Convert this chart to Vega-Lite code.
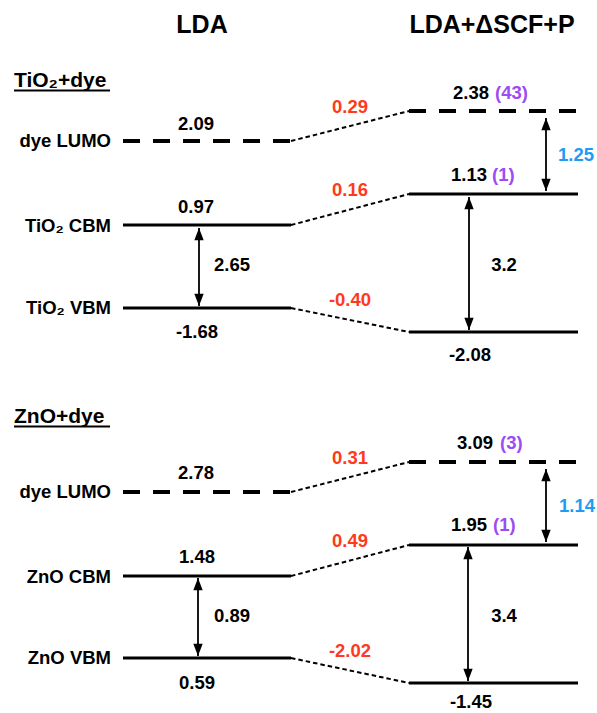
{
  "$schema": "https://vega.github.io/schema/vega-lite/v6.json",
  "width": 597,
  "height": 713,
  "padding": 0,
  "autosize": "none",
  "background": "white",
  "config": {"view": {"stroke": null}, "text": {"font": "Liberation Sans", "fontWeight": "bold"}},
  "datasets": {
    "levels": [
      {"panel": "TiO2", "col": "LDA", "kind": "dashed", "x1": 123, "x2": 291, "y": 141},
      {"panel": "TiO2", "col": "LDA", "kind": "solid", "x1": 123, "x2": 291, "y": 225},
      {"panel": "TiO2", "col": "LDA", "kind": "solid", "x1": 123, "x2": 291, "y": 308},
      {"panel": "TiO2", "col": "P", "kind": "dashed", "x1": 409, "x2": 578, "y": 111},
      {"panel": "TiO2", "col": "P", "kind": "solid", "x1": 409, "x2": 578, "y": 194},
      {"panel": "TiO2", "col": "P", "kind": "solid", "x1": 409, "x2": 578, "y": 332},
      {"panel": "ZnO", "col": "LDA", "kind": "dashed", "x1": 123, "x2": 291, "y": 492},
      {"panel": "ZnO", "col": "LDA", "kind": "solid", "x1": 123, "x2": 291, "y": 576},
      {"panel": "ZnO", "col": "LDA", "kind": "solid", "x1": 123, "x2": 291, "y": 658},
      {"panel": "ZnO", "col": "P", "kind": "dashed", "x1": 409, "x2": 578, "y": 462},
      {"panel": "ZnO", "col": "P", "kind": "solid", "x1": 409, "x2": 578, "y": 545},
      {"panel": "ZnO", "col": "P", "kind": "solid", "x1": 409, "x2": 578, "y": 683}
    ],
    "connectors": [
      {"x1": 291, "y1": 141, "x2": 409, "y2": 111},
      {"x1": 291, "y1": 225, "x2": 409, "y2": 194},
      {"x1": 291, "y1": 308, "x2": 409, "y2": 332},
      {"x1": 291, "y1": 492, "x2": 409, "y2": 462},
      {"x1": 291, "y1": 576, "x2": 409, "y2": 545},
      {"x1": 291, "y1": 658, "x2": 409, "y2": 683}
    ],
    "arrows": [
      {"x": 199, "y1": 228, "y2": 306},
      {"x": 546, "y1": 118, "y2": 191},
      {"x": 469, "y1": 197, "y2": 330},
      {"x": 198, "y1": 578, "y2": 656},
      {"x": 546, "y1": 469, "y2": 542},
      {"x": 468, "y1": 547, "y2": 681}
    ],
    "heads": [
      {"x": 199, "y": 228, "dir": "up"}, {"x": 199, "y": 306, "dir": "down"},
      {"x": 546, "y": 118, "dir": "up"}, {"x": 546, "y": 191, "dir": "down"},
      {"x": 469, "y": 197, "dir": "up"}, {"x": 469, "y": 330, "dir": "down"},
      {"x": 198, "y": 578, "dir": "up"}, {"x": 198, "y": 656, "dir": "down"},
      {"x": 546, "y": 469, "dir": "up"}, {"x": 546, "y": 542, "dir": "down"},
      {"x": 468, "y": 547, "dir": "up"}, {"x": 468, "y": 681, "dir": "down"}
    ],
    "underlines": [
      {"x1": 14, "x2": 110, "y": 90.5},
      {"x1": 14, "x2": 110, "y": 426.5}
    ],
    "texts": [
      {"style": "title", "x": 202, "y": 25, "text": "LDA", "tone": "black"},
      {"style": "title", "x": 492, "y": 25, "text": "LDA+ΔSCF+P", "tone": "black"},
      {"style": "heading", "x": 14, "y": 87, "text": "TiO₂+dye", "tone": "black"},
      {"style": "heading", "x": 14, "y": 423, "text": "ZnO+dye", "tone": "black"},
      {"style": "label", "x": 111, "y": 141, "text": "dye LUMO", "tone": "black"},
      {"style": "label", "x": 111, "y": 226, "text": "TiO₂ CBM", "tone": "black"},
      {"style": "label", "x": 111, "y": 308, "text": "TiO₂ VBM", "tone": "black"},
      {"style": "label", "x": 111, "y": 492, "text": "dye LUMO", "tone": "black"},
      {"style": "label", "x": 111, "y": 577, "text": "ZnO CBM", "tone": "black"},
      {"style": "label", "x": 111, "y": 658, "text": "ZnO VBM", "tone": "black"},
      {"style": "valC", "x": 196, "y": 124, "text": "2.09", "tone": "black"},
      {"style": "valC", "x": 196, "y": 207, "text": "0.97", "tone": "black"},
      {"style": "valC", "x": 232, "y": 265, "text": "2.65", "tone": "black"},
      {"style": "valC", "x": 197, "y": 332, "text": "-1.68", "tone": "black"},
      {"style": "valC", "x": 350, "y": 107, "text": "0.29", "tone": "red"},
      {"style": "valC", "x": 350, "y": 190, "text": "0.16", "tone": "red"},
      {"style": "valC", "x": 350, "y": 300, "text": "-0.40", "tone": "red"},
      {"style": "valL", "x": 453, "y": 93, "text": "2.38", "tone": "black"},
      {"style": "valL", "x": 495, "y": 93, "text": "(43)", "tone": "purple"},
      {"style": "valL", "x": 451, "y": 175, "text": "1.13", "tone": "black"},
      {"style": "valL", "x": 492, "y": 175, "text": "(1)", "tone": "purple"},
      {"style": "valL", "x": 558, "y": 155, "text": "1.25", "tone": "blue"},
      {"style": "valC", "x": 504, "y": 265, "text": "3.2", "tone": "black"},
      {"style": "valC", "x": 470, "y": 355, "text": "-2.08", "tone": "black"},
      {"style": "valC", "x": 196, "y": 473, "text": "2.78", "tone": "black"},
      {"style": "valC", "x": 197, "y": 557, "text": "1.48", "tone": "black"},
      {"style": "valC", "x": 232, "y": 616, "text": "0.89", "tone": "black"},
      {"style": "valC", "x": 197, "y": 683, "text": "0.59", "tone": "black"},
      {"style": "valC", "x": 350, "y": 458, "text": "0.31", "tone": "red"},
      {"style": "valC", "x": 350, "y": 541, "text": "0.49", "tone": "red"},
      {"style": "valC", "x": 350, "y": 651, "text": "-2.02", "tone": "red"},
      {"style": "valL", "x": 457, "y": 443, "text": "3.09", "tone": "black"},
      {"style": "valL", "x": 500, "y": 443, "text": "(3)", "tone": "purple"},
      {"style": "valL", "x": 451, "y": 525, "text": "1.95", "tone": "black"},
      {"style": "valL", "x": 493, "y": 525, "text": "(1)", "tone": "purple"},
      {"style": "valL", "x": 559, "y": 506, "text": "1.14", "tone": "blue"},
      {"style": "valC", "x": 504, "y": 616, "text": "3.4", "tone": "black"},
      {"style": "valC", "x": 471, "y": 702, "text": "-1.45", "tone": "black"}
    ]
  },
  "layer": [
    {
      "data": {"name": "levels"},
      "transform": [{"filter": "datum.kind === 'solid'"}],
      "mark": {"type": "rule", "strokeWidth": 3, "color": "black", "strokeCap": "butt"},
      "encoding": {
        "x": {"field": "x1", "type": "quantitative", "scale": {"domain": [0, 597], "nice": false, "zero": false}, "axis": null},
        "x2": {"field": "x2"},
        "y": {"field": "y", "type": "quantitative", "scale": {"domain": [0, 713], "nice": false, "zero": false, "reverse": true}, "axis": null}
      }
    },
    {
      "data": {"name": "levels"},
      "transform": [{"filter": "datum.kind === 'dashed'"}],
      "mark": {"type": "rule", "strokeWidth": 4, "color": "black", "strokeDash": [17, 13], "strokeCap": "butt"},
      "encoding": {
        "x": {"field": "x1", "type": "quantitative", "scale": {"domain": [0, 597], "nice": false, "zero": false}, "axis": null},
        "x2": {"field": "x2"},
        "y": {"field": "y", "type": "quantitative", "scale": {"domain": [0, 713], "nice": false, "zero": false, "reverse": true}, "axis": null}
      }
    },
    {
      "data": {"name": "connectors"},
      "mark": {"type": "rule", "strokeWidth": 2, "color": "black", "strokeDash": [4.5, 3]},
      "encoding": {
        "x": {"field": "x1", "type": "quantitative", "scale": {"domain": [0, 597], "nice": false, "zero": false}, "axis": null},
        "x2": {"field": "x2"},
        "y": {"field": "y1", "type": "quantitative", "scale": {"domain": [0, 713], "nice": false, "zero": false, "reverse": true}, "axis": null},
        "y2": {"field": "y2"}
      }
    },
    {
      "data": {"name": "arrows"},
      "mark": {"type": "rule", "strokeWidth": 1.8, "color": "black"},
      "encoding": {
        "x": {"field": "x", "type": "quantitative", "scale": {"domain": [0, 597], "nice": false, "zero": false}, "axis": null},
        "y": {"field": "y1", "type": "quantitative", "scale": {"domain": [0, 713], "nice": false, "zero": false, "reverse": true}, "axis": null},
        "y2": {"field": "y2"}
      }
    },
    {
      "data": {"name": "heads"},
      "mark": {"type": "point", "filled": true, "color": "black", "opacity": 1, "size": 289, "strokeWidth": 0},
      "encoding": {
        "x": {"field": "x", "type": "quantitative", "scale": {"domain": [0, 597], "nice": false, "zero": false}, "axis": null},
        "y": {"field": "y", "type": "quantitative", "scale": {"domain": [0, 713], "nice": false, "zero": false, "reverse": true}, "axis": null},
        "shape": {"field": "dir", "type": "nominal", "scale": {"domain": ["up", "down"], "range": ["M0,0L-0.55,1.45L0.55,1.45Z", "M0,0L-0.55,-1.45L0.55,-1.45Z"]}, "legend": null}
      }
    },
    {
      "data": {"name": "underlines"},
      "mark": {"type": "rule", "strokeWidth": 1.8, "color": "black"},
      "encoding": {
        "x": {"field": "x1", "type": "quantitative", "scale": {"domain": [0, 597], "nice": false, "zero": false}, "axis": null},
        "x2": {"field": "x2"},
        "y": {"field": "y", "type": "quantitative", "scale": {"domain": [0, 713], "nice": false, "zero": false, "reverse": true}, "axis": null}
      }
    },
    {
      "data": {"name": "texts"},
      "transform": [{"filter": "datum.style === 'title'"}],
      "mark": {"type": "text", "fontSize": 25, "align": "center", "baseline": "middle"},
      "encoding": {
        "x": {"field": "x", "type": "quantitative", "scale": {"domain": [0, 597], "nice": false, "zero": false}, "axis": null},
        "y": {"field": "y", "type": "quantitative", "scale": {"domain": [0, 713], "nice": false, "zero": false, "reverse": true}, "axis": null},
        "text": {"field": "text"},
        "color": {"field": "tone", "type": "nominal", "scale": {"domain": ["black", "red", "purple", "blue"], "range": ["#000000", "#ff3a1c", "#9b4cf2", "#1e9cf2"]}, "legend": null}
      }
    },
    {
      "data": {"name": "texts"},
      "transform": [{"filter": "datum.style === 'heading'"}],
      "mark": {"type": "text", "fontSize": 21, "align": "left", "baseline": "alphabetic"},
      "encoding": {
        "x": {"field": "x", "type": "quantitative", "scale": {"domain": [0, 597], "nice": false, "zero": false}, "axis": null},
        "y": {"field": "y", "type": "quantitative", "scale": {"domain": [0, 713], "nice": false, "zero": false, "reverse": true}, "axis": null},
        "text": {"field": "text"},
        "color": {"field": "tone", "type": "nominal", "scale": {"domain": ["black", "red", "purple", "blue"], "range": ["#000000", "#ff3a1c", "#9b4cf2", "#1e9cf2"]}, "legend": null}
      }
    },
    {
      "data": {"name": "texts"},
      "transform": [{"filter": "datum.style === 'label'"}],
      "mark": {"type": "text", "fontSize": 18.5, "align": "right", "baseline": "middle"},
      "encoding": {
        "x": {"field": "x", "type": "quantitative", "scale": {"domain": [0, 597], "nice": false, "zero": false}, "axis": null},
        "y": {"field": "y", "type": "quantitative", "scale": {"domain": [0, 713], "nice": false, "zero": false, "reverse": true}, "axis": null},
        "text": {"field": "text"},
        "color": {"field": "tone", "type": "nominal", "scale": {"domain": ["black", "red", "purple", "blue"], "range": ["#000000", "#ff3a1c", "#9b4cf2", "#1e9cf2"]}, "legend": null}
      }
    },
    {
      "data": {"name": "texts"},
      "transform": [{"filter": "datum.style === 'valC'"}],
      "mark": {"type": "text", "fontSize": 18.5, "align": "center", "baseline": "middle"},
      "encoding": {
        "x": {"field": "x", "type": "quantitative", "scale": {"domain": [0, 597], "nice": false, "zero": false}, "axis": null},
        "y": {"field": "y", "type": "quantitative", "scale": {"domain": [0, 713], "nice": false, "zero": false, "reverse": true}, "axis": null},
        "text": {"field": "text"},
        "color": {"field": "tone", "type": "nominal", "scale": {"domain": ["black", "red", "purple", "blue"], "range": ["#000000", "#ff3a1c", "#9b4cf2", "#1e9cf2"]}, "legend": null}
      }
    },
    {
      "data": {"name": "texts"},
      "transform": [{"filter": "datum.style === 'valL'"}],
      "mark": {"type": "text", "fontSize": 18.5, "align": "left", "baseline": "middle"},
      "encoding": {
        "x": {"field": "x", "type": "quantitative", "scale": {"domain": [0, 597], "nice": false, "zero": false}, "axis": null},
        "y": {"field": "y", "type": "quantitative", "scale": {"domain": [0, 713], "nice": false, "zero": false, "reverse": true}, "axis": null},
        "text": {"field": "text"},
        "color": {"field": "tone", "type": "nominal", "scale": {"domain": ["black", "red", "purple", "blue"], "range": ["#000000", "#ff3a1c", "#9b4cf2", "#1e9cf2"]}, "legend": null}
      }
    }
  ]
}
